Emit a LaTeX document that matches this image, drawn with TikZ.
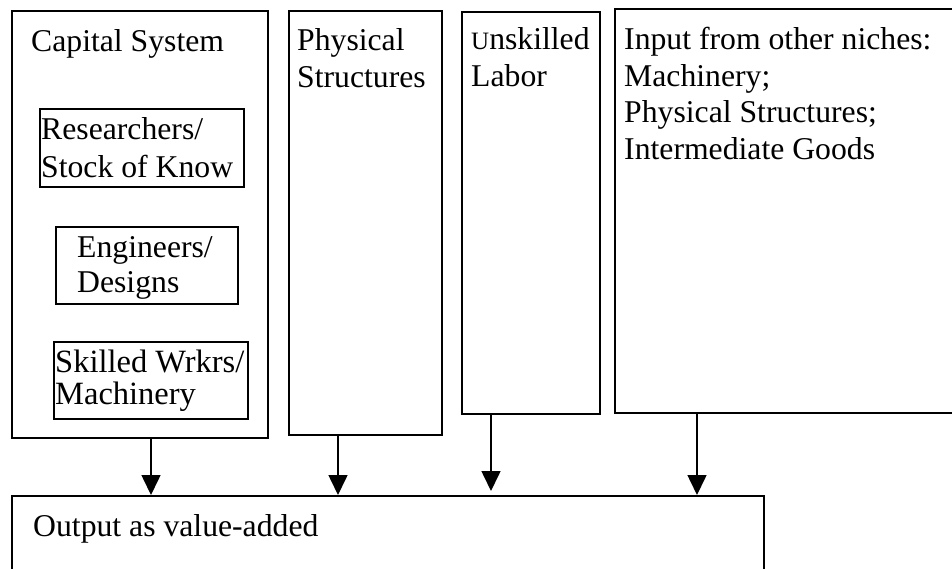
\documentclass[tikz,border=0pt]{standalone}
\usepackage{fontspec}
\setmainfont{Liberation Serif}
\usetikzlibrary{positioning,arrows.meta}

\tikzset{
	box/.style={draw, line width=1.8pt, anchor=north west, inner sep=0pt},
	lbl/.style={anchor=north west, align=left, inner sep=0pt, font=\fontsize{31.7}{36.5}\selectfont},
	arr/.style={-{Triangle[width=19pt, length=20pt]}, line width=1.6pt}
}

\begin{document}
\begin{tikzpicture}[x=1pt, y=-1pt]
	\useasboundingbox (0, 0) rectangle (952, 569);
	\clip (0, 0) rectangle (952, 569);

	\node[box, minimum width=256pt, minimum height=427pt] (capital) at (11, 10) {};
	\node[box, minimum width=204pt, minimum height=78pt] (research) at (39, 108) {};
	\node[box, minimum width=182pt, minimum height=77pt] (engineers) at (55, 226) {};
	\node[box, minimum width=194pt, minimum height=77pt] (skilled) at (53, 341) {};
	\node[box, minimum width=153pt, minimum height=424pt] (physical) at (288, 10) {};
	\node[box, minimum width=138pt, minimum height=402pt] (unskilled) at (461, 11) {};
	\node[box, minimum width=360pt, minimum height=404pt] (input) at (614, 8) {};
	\node[box, minimum width=752pt, minimum height=100pt] (output) at (11, 495) {};

	\node[lbl, below right=19pt and 20pt of capital.north west] (capitaltxt) {Capital System};
	\node[lbl, font=\fontsize{31.7}{38}\selectfont, below right=9pt and 2pt of research.north west] (researchtxt) {Researchers/\\Stock of Know};
	\node[lbl, font=\fontsize{31.7}{35}\selectfont, below right=10pt and 22pt of engineers.north west] (engineerstxt) {Engineers/\\Designs};
	\node[lbl, font=\fontsize{32.5}{32}\selectfont, below right=9pt and 2pt of skilled.north west] (skilledtxt) {Skilled Wrkrs/\\Machinery};
	\node[lbl, font=\fontsize{31.7}{37}\selectfont, below right=18pt and 9pt of physical.north west] (physicaltxt) {Physical\\Structures};
	\node[lbl, font=\fontsize{31.7}{37}\selectfont, below right=16pt and 10pt of unskilled.north west] (unskilledtxt) {{\fontsize{25}{25}\selectfont U}nskilled\\Labor};
	\node[lbl, below right=19pt and 10pt of input.north west] (inputtxt) {Input from other niches:\\Machinery;\\Physical Structures;\\Intermediate Goods};
	\node[lbl, below right=19pt and 22pt of output.north west] (outputtxt) {Output as value-added};

	\coordinate (a1) at (151, 0);
	\coordinate (a2) at (338, 0);
	\coordinate (a3) at (491, 0);
	\coordinate (a4) at (697, 0);

	\draw[arr] (capital.south -| a1) -- (output.north -| a1);
	\draw[arr] (physical.south -| a2) -- (output.north -| a2);
	\draw[arr, shorten >=4pt] (unskilled.south -| a3) -- (output.north -| a3);
	\draw[arr] (input.south -| a4) -- (output.north -| a4);

\end{tikzpicture}
\end{document}
